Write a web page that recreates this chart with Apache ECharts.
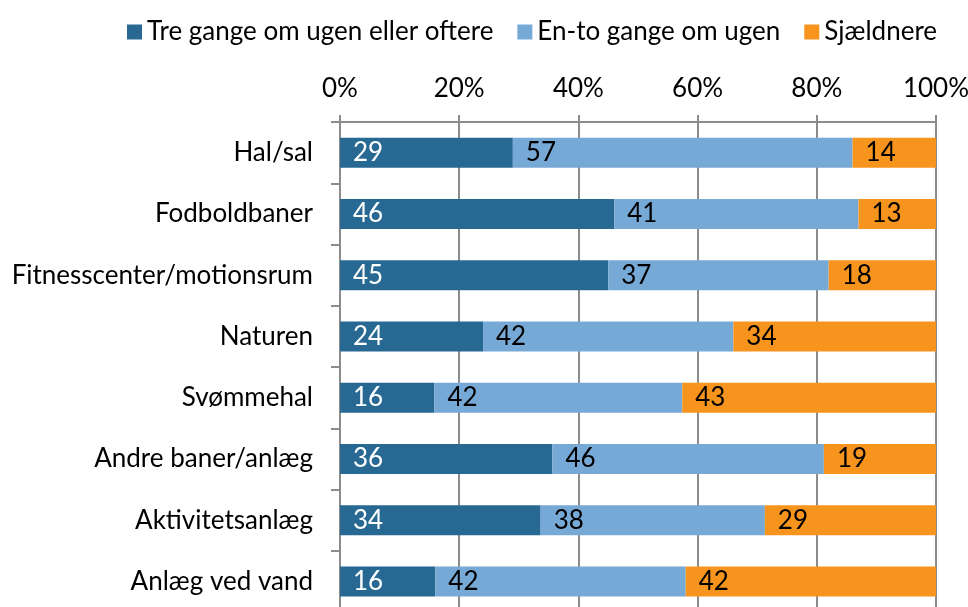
<!DOCTYPE html>
<html>
<head>
<meta charset="utf-8">
<script src="https://cdn.jsdelivr.net/npm/echarts@6/dist/echarts.min.js"></script>
<style>
  html, body { margin: 0; padding: 0; background: #fff; }
  #chart { width: 968px; height: 607px; }
</style>
</head>
<body>
<div id="chart"></div>
<script>
var categories = ['Hal/sal', 'Fodboldbaner', 'Fitnesscenter/motionsrum', 'Naturen',
  'Svømmehal', 'Andre baner/anlæg', 'Aktivitetsanlæg', 'Anlæg ved vand'];
var seriesNames = ['Tre gange om ugen eller oftere', 'En-to gange om ugen', 'Sjældnere'];
var often = [29, 46, 45, 24, 16, 36, 34, 16];
var weekly = [57, 41, 37, 42, 42, 46, 38, 42];
var rarely = [14, 13, 18, 34, 43, 19, 29, 42];
var tickLabels = ['0%', '20%', '40%', '60%', '80%', '100%'];
var colors = ['#276993', '#77A9D7', '#F7941D'];

var FONT = 'Lato, "Open Sans", sans-serif';
var FS = 26;
var raw = [often, weekly, rarely];

// 100% stacked: bar length is the share of the row total, label is the printed value
var totals = categories.map(function (c, i) {
  return often[i] + weekly[i] + rarely[i];
});

var series = raw.map(function (arr, s) {
  return {
    name: seriesNames[s],
    type: 'bar',
    stack: 'all',
    barWidth: 30,
    itemStyle: { color: colors[s] },
    label: {
      show: true,
      position: 'insideLeft',
      distance: 13,
      fontFamily: FONT,
      fontSize: FS,
      color: s === 0 ? '#ffffff' : '#000000',
      formatter: function (p) { return arr[p.dataIndex]; }
    },
    data: arr.map(function (v, i) { return v / totals[i] * 100; })
  };
});

var myChart = echarts.init(document.getElementById('chart'));
myChart.setOption({
  animation: false,
  legend: {
    top: 14,
    left: 122,
    itemWidth: 15,
    itemHeight: 15,
    itemGap: 24,
    icon: 'rect',
    textStyle: { fontFamily: FONT, fontSize: FS, color: '#000' },
    data: seriesNames
  },
  grid: {
    left: 340,
    right: 32,
    top: 122,
    height: 490,
    outerBoundsMode: 'none'
  },
  xAxis: {
    type: 'value',
    position: 'top',
    min: 0,
    max: 100,
    interval: 20,
    axisLine: { show: true, lineStyle: { color: '#8c8c8c', width: 2 } },
    axisTick: { show: true, length: 7, lineStyle: { color: '#8c8c8c', width: 2 } },
    splitLine: { show: true, lineStyle: { color: '#8c8c8c', width: 2 } },
    axisLabel: {
      fontFamily: FONT, fontSize: FS, color: '#000', margin: 20,
      formatter: function (v) { return tickLabels[v / 20]; }
    }
  },
  yAxis: {
    type: 'category',
    inverse: true,
    data: categories,
    axisLine: { show: true, lineStyle: { color: '#8c8c8c', width: 2 } },
    axisTick: { show: true, length: 9, lineStyle: { color: '#8c8c8c', width: 2 } },
    axisLabel: { fontFamily: FONT, fontSize: FS, color: '#000', margin: 27 }
  },
  series: series
});
</script>
</body>
</html>
